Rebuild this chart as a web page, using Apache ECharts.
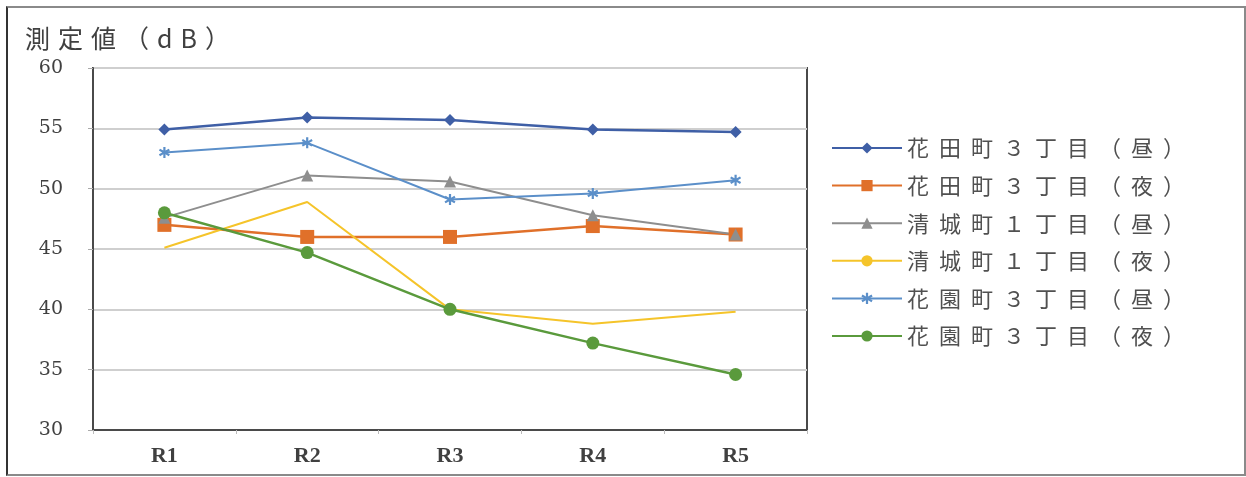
<!DOCTYPE html>
<html><head><meta charset="utf-8">
<script src="https://cdn.jsdelivr.net/npm/echarts@6/dist/echarts.min.js"></script>
<style>
html,body{margin:0;padding:0;background:#fff;}
#frame{position:absolute;left:6px;top:6px;width:1236px;height:466px;border:2px solid #8a8a8a;border-left-color:#333;}
#c{position:absolute;left:0;top:0;width:1246px;height:477px;}
</style></head>
<body><div id="frame"></div><div id="c"></div>
<script>
const categories = ['R1','R2','R3','R4','R5'];
const yTicks = [30,35,40,45,50,55,60];
const hanadaDay   = [54.9, 55.9, 55.7, 54.9, 54.7];
const hanadaNight = [47.0, 46.0, 46.0, 46.9, 46.2];
const seijoDay    = [47.6, 51.1, 50.6, 47.8, 46.2];
const seijoNight  = [45.1, 48.9, 40.0, 38.8, 39.8];
const hanazonoDay = [53.0, 53.8, 49.1, 49.6, 50.7];
const hanazonoNight = [48.0, 44.7, 40.0, 37.2, 34.6];
const names = ['花田町３丁目（昼）','花田町３丁目（夜）','清城町１丁目（昼）','清城町１丁目（夜）','花園町３丁目（昼）','花園町３丁目（夜）'];
const titleText = '測定値（dB）';

function spaced(str){ return str.split('').map(ch => '{c|' + ch + '}').join(''); }

const chart = echarts.init(document.getElementById('c'), null, {renderer:'canvas'});
const star = 'path://M4,0 L6,0 L6,3.3 L9,1.6 L10,3.3 L7,5 L10,6.7 L9,8.4 L6,6.7 L6,10 L4,10 L4,6.7 L1,8.4 L0,6.7 L3,5 L0,3.3 L1,1.6 L4,3.3 Z';
function s(name, data, color, symbol, size, width){
  return {name, type:'line', data, color, symbol, symbolSize:size, showSymbol: symbol!=='none',
    lineStyle:{color, width}, itemStyle:{color}, z: 2};
}
chart.setOption({
  animation:false,
  textStyle:{fontFamily:'Noto Sans CJK JP'},
  title:{text:spaced(titleText), left:20, top:21,
    textStyle:{fontFamily:'Noto Sans CJK JP', fontSize:25, fontWeight:'normal', color:'#404040',
      rich:{c:{fontFamily:'Noto Sans CJK JP', fontSize:25, color:'#404040', padding:[0,8,0,0]}}}},
  grid:{left:93, top:68, width:714, height:362, show:true, borderColor:'#4a4a4a', borderWidth:2, backgroundColor:'transparent'},
  legend:{
    orient:'vertical', left:826, top:132, itemGap:15.6, itemWidth:70, itemHeight:14,
    formatter: name => spaced(name),
    textStyle:{fontFamily:'Noto Sans CJK JP', fontSize:22, color:'#505050',
      rich:{c:{fontFamily:'Noto Sans CJK JP', fontSize:22, color:'#505050', padding:[0,10,0,0]}}},
    data:names
  },
  xAxis:{type:'category', data:categories, boundaryGap:true,
    axisLine:{lineStyle:{color:'#4a4a4a', width:2}},
    axisTick:{show:true, length:4, lineStyle:{color:'#bbb'}},
    axisLabel:{fontFamily:'Liberation Serif', fontSize:22, fontWeight:'bold', color:'#404040', margin:15}
  },
  yAxis:{type:'value', min:30, max:60, interval:5,
    axisLine:{show:true, lineStyle:{color:'#4a4a4a', width:2}},
    axisTick:{show:true, length:5, lineStyle:{color:'#aaa'}},
    splitLine:{lineStyle:{color:'#cfcfcf', width:2}},
    axisLabel:{fontFamily:'DejaVu Serif', fontSize:19, color:'#404040', margin:30, align:'right'}
  },
  series:[
    s(names[0], hanadaDay, '#3f5fa6', 'diamond', 12, 2.5),
    s(names[1], hanadaNight, '#e0702a', 'rect', 14, 2.5),
    s(names[2], seijoDay, '#8e8e8e', 'triangle', 12, 2),
    s(names[3], seijoNight, '#f5c42a', 'none', 6, 2),
    s(names[4], hanazonoDay, '#5b8fc9', star, 11, 2),
    s(names[5], hanazonoNight, '#5a9a3c', 'circle', 13, 2.5)
  ]
});
</script></body></html>
